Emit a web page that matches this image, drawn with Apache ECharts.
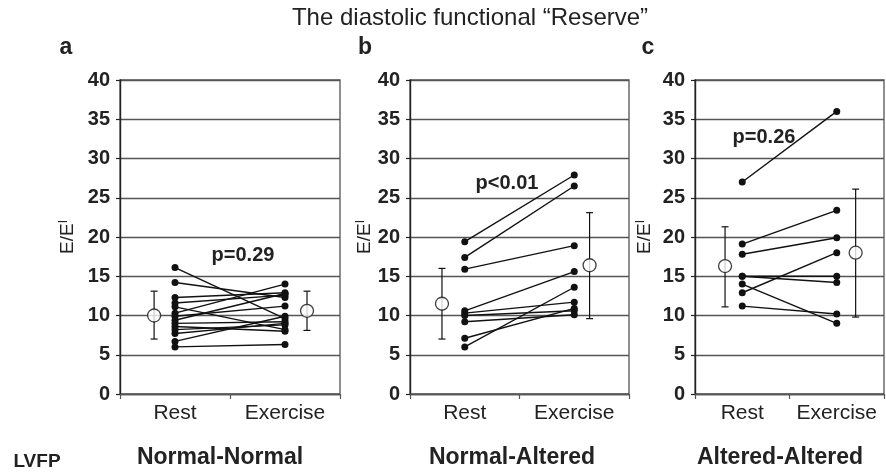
<!DOCTYPE html>
<html>
<head>
<meta charset="utf-8">
<script src="https://cdn.jsdelivr.net/npm/echarts@6/dist/echarts.min.js"></script>
<style>html,body{margin:0;padding:0;background:#fff}#c{width:886px;height:474px}</style>
</head>
<body>
<div id="c"></div>
<script>
// ---- data ----
const categories = ['Rest', 'Exercise'];
const panelLetters = ['a', 'b', 'c'];
const groupNames = ['Normal-Normal', 'Normal-Altered', 'Altered-Altered'];
const pValues = ['p=0.29', 'p<0.01', 'p=0.26'];

const restA     = [16.1, 14.2, 12.3, 11.6, 11.1, 10.3, 9.9, 9.4, 9.0, 8.6, 8.2, 7.7, 6.7, 6.0];
const exerciseA = [9.6, 12.3, 12.9, 12.6, 8.2, 14.0, 11.2, 12.8, 9.2, 8.0, 8.8, 9.0, 9.9, 6.3];

const restB     = [19.4, 17.4, 15.9, 10.6, 10.3, 10.0, 9.2, 7.1, 6.0];
const exerciseB = [27.9, 26.5, 18.9, 15.6, 11.7, 10.6, 10.1, 10.9, 13.6];

const restC     = [27.0, 19.1, 17.8, 15.0, 15.0, 14.0, 12.9, 11.2];
const exerciseC = [36.0, 23.4, 19.9, 15.0, 14.2, 9.0, 18.0, 10.2];

// mean, lower, upper of error bars [rest, exercise]
const meanA = [10.0, 10.6], lowA = [7.0, 8.1], highA = [13.1, 13.1];
const meanB = [11.5, 16.4], lowB = [7.0, 9.6], highB = [16.0, 23.1];
const meanC = [16.3, 18.0], lowC = [11.1, 9.8], highC = [21.3, 26.1];

// ---- layout ----
const grids = [
  {left: 120, width: 220},
  {left: 410, width: 219},
  {left: 695, width: 189}
];
const TOP = 80, HEIGHT = 314;
const ptPos = [0.25, 0.75];
const meanPos = [[0.155, 0.85], [0.146, 0.82], [0.159, 0.85]];
const nameGaps = [42, 30, 40];
const letterX = [66, 365, 648];
const groupX = [220, 512, 780];
const pPos = [[243, 255], [507, 183], [764, 137]];

const panels = [
  {rest: restA, ex: exerciseA, mean: meanA, low: lowA, high: highA},
  {rest: restB, ex: exerciseB, mean: meanB, low: lowB, high: highB},
  {rest: restC, ex: exerciseC, mean: meanC, low: lowC, high: highC}
];

const TXT = '#222';
const FONT = 'Liberation Sans, Arial, sans-serif';

const option = {
  animation: false,
  backgroundColor: '#fff',
  textStyle: {fontFamily: FONT},
  grid: [], xAxis: [], yAxis: [], series: [],
  graphic: []
};

panels.forEach((p, i) => {
  option.grid.push({left: grids[i].left, width: grids[i].width, top: TOP, height: HEIGHT,
    show: true, borderColor: '#555', borderWidth: 1.3, backgroundColor: 'transparent'});
  option.xAxis.push({
    type: 'category', gridIndex: i, data: categories, boundaryGap: true,
    axisLine: {lineStyle: {color: '#555', width: 1.3}},
    axisTick: {show: true, length: 5, lineStyle: {color: '#555', width: 1.2}},
    axisLabel: {fontSize: 21, color: TXT, margin: 9, fontFamily: FONT, interval: 0, hideOverlap: false},
    splitLine: {show: false}
  });
  option.xAxis.push({type: 'value', gridIndex: i, min: 0, max: 1, show: false});
  option.yAxis.push({
    type: 'value', gridIndex: i, min: 0, max: 40, interval: 5,
    name: 'E/E{s|I}', nameLocation: 'middle', nameRotate: 90, nameGap: nameGaps[i],
    nameTextStyle: {fontSize: 19, color: TXT, fontFamily: FONT,
      rich: {s: {fontSize: 12, color: TXT, verticalAlign: 'top', padding: [0, 0, 8, 0]}}},
    axisLine: {show: true, lineStyle: {color: '#222', width: 1.4}},
    axisTick: {show: true, length: 4, lineStyle: {color: '#222', width: 1.2}},
    axisLabel: {fontSize: 20, fontWeight: 'bold', color: TXT, margin: 10, fontFamily: FONT},
    splitLine: {show: true, lineStyle: {color: '#555', width: 1.4}}
  });

  // individual subjects
  p.rest.forEach((r, k) => {
    option.series.push({
      type: 'line', xAxisIndex: 2 * i + 1, yAxisIndex: i,
      data: [[ptPos[0], r], [ptPos[1], p.ex[k]]],
      symbol: 'circle', symbolSize: 7, showSymbol: true,
      lineStyle: {color: '#111', width: 1.4},
      itemStyle: {color: '#111'}, z: 3
    });
  });

  // error bars
  option.series.push({
    type: 'custom', xAxisIndex: 2 * i + 1, yAxisIndex: i, z: 4,
    data: [0, 1].map(j => [meanPos[i][j], p.low[j], p.high[j]]),
    encode: {x: 0, y: [1, 2]},
    renderItem: function (params, api) {
      const x = api.value(0);
      const a = api.coord([x, api.value(1)]);
      const b = api.coord([x, api.value(2)]);
      const w = 3.5;
      const st = {stroke: '#111', lineWidth: 1.2};
      return {type: 'group', children: [
        {type: 'line', shape: {x1: a[0], y1: a[1], x2: b[0], y2: b[1]}, style: st},
        {type: 'line', shape: {x1: a[0] - w, y1: a[1], x2: a[0] + w, y2: a[1]}, style: st},
        {type: 'line', shape: {x1: b[0] - w, y1: b[1], x2: b[0] + w, y2: b[1]}, style: st}
      ]};
    }
  });

  // means
  option.series.push({
    type: 'scatter', xAxisIndex: 2 * i + 1, yAxisIndex: i, z: 5,
    data: [0, 1].map(j => [meanPos[i][j], p.mean[j]]),
    symbol: 'circle', symbolSize: 13,
    itemStyle: {color: '#fff', borderColor: '#111', borderWidth: 1.3}
  });

  option.graphic.push({type: 'text', x: letterX[i], y: 48,
    style: {text: panelLetters[i], font: 'bold 23px ' + FONT, fill: TXT, align: 'center', verticalAlign: 'middle'}});
  option.graphic.push({type: 'text', x: groupX[i], y: 458,
    style: {text: groupNames[i], font: 'bold 23px ' + FONT, fill: TXT, align: 'center', verticalAlign: 'middle'}});
  option.graphic.push({type: 'text', x: pPos[i][0], y: pPos[i][1],
    style: {text: pValues[i], font: 'bold 20px ' + FONT, fill: TXT, align: 'center', verticalAlign: 'middle'}});
});

option.graphic.push({type: 'text', x: 470, y: 18,
  style: {text: 'The diastolic functional \u201cReserve\u201d', font: '24px ' + FONT, fill: TXT, align: 'center', verticalAlign: 'middle'}});
option.graphic.push({type: 'text', x: 37, y: 462,
  style: {text: 'LVFP', font: 'bold 19px ' + FONT, fill: TXT, align: 'center', verticalAlign: 'middle'}});

const chart = echarts.init(document.getElementById('c'), null, {renderer: 'canvas'});
chart.setOption(option);
</script>
</body>
</html>
